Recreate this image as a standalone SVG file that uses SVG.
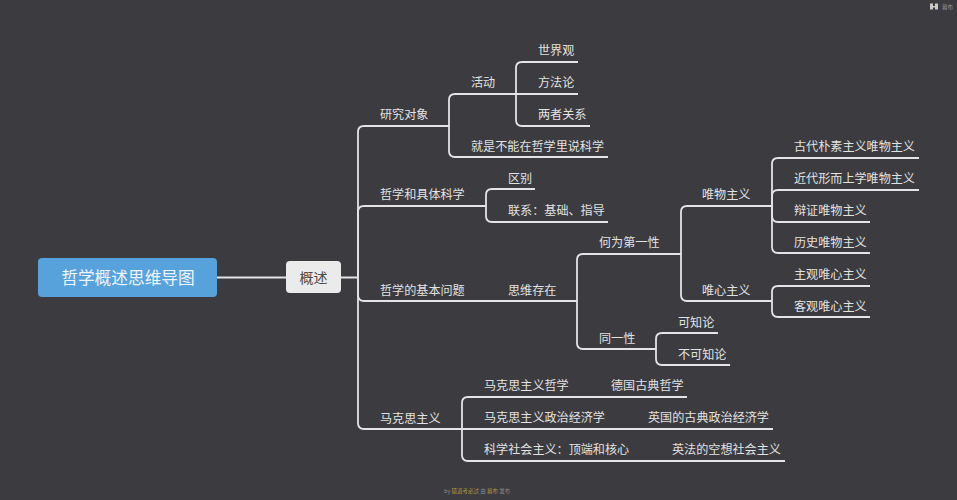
<svg xmlns="http://www.w3.org/2000/svg" width="957" height="500" viewBox="0 0 957 500">
<style>
text{font-family:"Noto Sans CJK SC","Liberation Sans",sans-serif;font-size:12.100px;fill:#e2e2e2}
.c{fill:none;stroke:#e4e4e4;stroke-width:1.800}
.root{font-size:16.700px;fill:#eef5fb;text-anchor:middle}
.main{font-size:14px;fill:#4a4a4a;text-anchor:middle}
</style>
<rect width="957" height="500" fill="#3b3b40"/>
<g id="connectors" class="c">
<path class="c" d="M217 277.500H286M341 277.500H358"/>
<path class="c" d="M358 277.500V132Q358 126 364 126H449"/>
<path class="c" d="M358 277.500V212Q358 206 364 206H486"/>
<path class="c" d="M358 277.500V295Q358 301 364 301H577"/>
<path class="c" d="M358 277.500V423Q358 429 364 429H773"/>
<path class="c" d="M449 126V100Q449 94 455 94H578"/>
<path class="c" d="M449 126V151Q449 157 455 157H608"/>
<path class="c" d="M516 94V68Q516 62 522 62H578"/>
<path class="c" d="M516 94V120Q516 126 522 126H590"/>
<path class="c" d="M486 206V195Q486 189 492 189H535"/>
<path class="c" d="M486 206V216Q486 222 492 222H608"/>
<path class="c" d="M577 301V260Q577 254 583 254H681"/>
<path class="c" d="M577 301V343Q577 349 583 349H656"/>
<path class="c" d="M656 349V339Q656 333 662 333H718"/>
<path class="c" d="M656 349V359Q656 365 662 365H730"/>
<path class="c" d="M681 254V212Q681 206 687 206H772"/>
<path class="c" d="M681 254V295Q681 301 687 301H772"/>
<path class="c" d="M772 206V164Q772 158 778 158H919"/>
<path class="c" d="M772 206V196Q772 190 778 190H919"/>
<path class="c" d="M772 206V216Q772 222 778 222H870"/>
<path class="c" d="M772 206V247Q772 253 778 253H870"/>
<path class="c" d="M772 301V292Q772 286 778 286H870"/>
<path class="c" d="M772 301V311Q772 317 778 317H870"/>
<path class="c" d="M462 429V403Q462 397 468 397H687"/>
<path class="c" d="M462 429V455Q462 461 468 461H785"/>
</g>
<g id="root"><rect x="38" y="258" width="179" height="39" rx="4" fill="#58a2dc"/><text class="root" x="128" y="284">哲学概述思维导图</text></g>
<g id="n-gaishu"><rect x="286" y="261" width="55" height="32" rx="4" fill="#ebebeb"/><text class="main" x="313.500" y="283">概述</text></g>
<g id="n1"><text x="380" y="118.500">研究对象</text></g>
<g id="n2"><text x="471" y="86.500">活动</text></g>
<g id="n3"><text x="538" y="54.500">世界观</text></g>
<g id="n4"><text x="538" y="86.500">方法论</text></g>
<g id="n5"><text x="538" y="118.500">两者关系</text></g>
<g id="n6"><text x="471" y="150.500">就是不能在哲学里说科学</text></g>
<g id="n7"><text x="380" y="198.500">哲学和具体科学</text></g>
<g id="n8"><text x="508" y="182.500">区别</text></g>
<g id="n9"><text x="508" y="214.500">联系：基础、指导</text></g>
<g id="n10"><text x="380" y="294.500">哲学的基本问题</text></g>
<g id="n11"><text x="508" y="294.500">思维存在</text></g>
<g id="n12"><text x="599" y="246.500">何为第一性</text></g>
<g id="n13"><text x="702" y="198.500">唯物主义</text></g>
<g id="n14"><text x="794" y="150.500">古代朴素主义唯物主义</text></g>
<g id="n15"><text x="794" y="182.500">近代形而上学唯物主义</text></g>
<g id="n16"><text x="794" y="214.500">辩证唯物主义</text></g>
<g id="n17"><text x="794" y="246.500">历史唯物主义</text></g>
<g id="n18"><text x="702" y="294.500">唯心主义</text></g>
<g id="n19"><text x="794" y="278.500">主观唯心主义</text></g>
<g id="n20"><text x="794" y="310.500">客观唯心主义</text></g>
<g id="n21"><text x="599" y="342.500">同一性</text></g>
<g id="n22"><text x="678" y="326.500">可知论</text></g>
<g id="n23"><text x="678" y="358.500">不可知论</text></g>
<g id="n24"><text x="380" y="422.500">马克思主义</text></g>
<g id="n25"><text x="484" y="389.500">马克思主义哲学</text></g>
<g id="n26"><text x="611" y="389.500">德国古典哲学</text></g>
<g id="n27"><text x="484" y="421.500">马克思主义政治经济学</text></g>
<g id="n28"><text x="648" y="421.500">英国的古典政治经济学</text></g>
<g id="n29"><text x="484" y="453.500">科学社会主义：顶端和核心</text></g>
<g id="n30"><text x="672" y="453.500">英法的空想社会主义</text></g>
<g id="footer"><text x="444" y="493" style="font-size:5.500px;fill:#8a8a8a">by <tspan fill="#b59a3e">硕道考必过</tspan> 由 <tspan fill="#b59a3e">幕布</tspan> 发布</text></g>
<g id="brand"><path d="M930 3.500h3v2.500h2v-2.500h3v6h-3v-2h-2v2h-3z" fill="#c8c8c8"/><text x="942" y="9" style="font-size:5.500px;fill:#9a9a9a">幕布</text></g>
</svg>
